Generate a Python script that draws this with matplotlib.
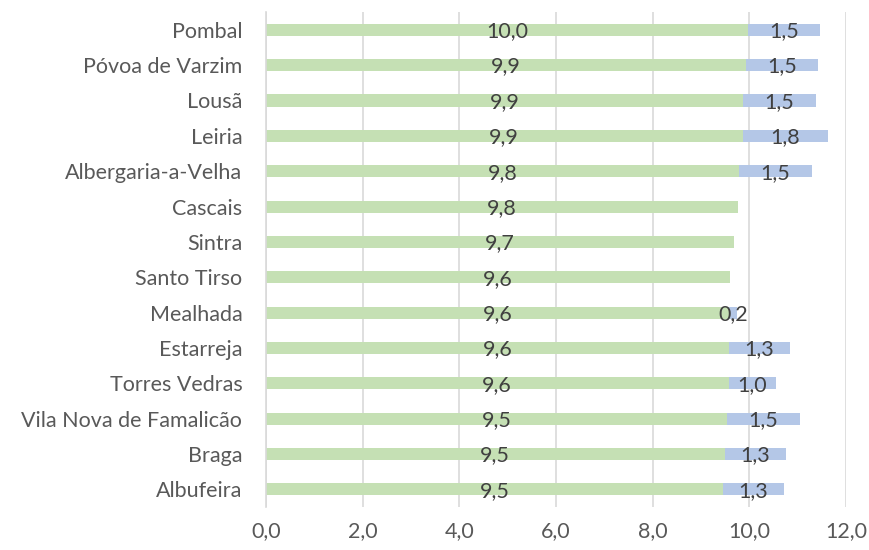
import matplotlib.pyplot as plt
import numpy as np

# --- data (top to bottom as shown) ---
municipios = ['Pombal', 'Póvoa de Varzim', 'Lousã', 'Leiria', 'Albergaria-a-Velha',
              'Cascais', 'Sintra', 'Santo Tirso', 'Mealhada', 'Estarreja',
              'Torres Vedras', 'Vila Nova de Famalicão', 'Braga', 'Albufeira']
base = [9.98, 9.94, 9.87, 9.86, 9.79, 9.76, 9.69, 9.60, 9.58, 9.58, 9.57, 9.54, 9.49, 9.46]
extra = [1.49, 1.48, 1.50, 1.76, 1.50, 0.0, 0.0, 0.0, 0.16, 1.26, 0.99, 1.50, 1.26, 1.26]
x_ticks = [0, 2, 4, 6, 8, 10, 12]

green = '#c5e0b4'
blue = '#b4c7e7'
grid_c = '#d9d9d9'
txt_c = '#404040'

plt.rcParams['font.family'] = ['Lato', 'DejaVu Sans']

fig = plt.figure(figsize=(8.69, 5.5), dpi=100)
ax = fig.add_axes([0.306, 0.078, 0.6675, 0.90])

y = np.arange(len(municipios))
ax.barh(y, base, height=0.34, color=green, zorder=2)
ax.barh(y, extra, left=base, height=0.34, color=blue, zorder=2)

def fmt(v):
    return f'{v:.1f}'.replace('.', ',')

for yi, g, b in zip(y, base, extra):
    ax.text(g / 2, yi + 0.04, fmt(g), ha='center', va='center', fontsize=15.5, color=txt_c, zorder=3)
    if b > 0:
        ax.text(g + b / 2, yi + 0.04, fmt(b), ha='center', va='center', fontsize=15.5, color=txt_c, zorder=3)

ax.set_xlim(0, 12)
ax.set_ylim(len(municipios) - 0.5, -0.5)
ax.set_xticks(x_ticks)
ax.set_xticklabels([fmt(t) for t in x_ticks])
ax.set_yticks(y)
ax.set_yticklabels(municipios)
ax.tick_params(axis='both', length=0, labelsize=15.5, colors='#595959')
ax.tick_params(axis='y', pad=17)
ax.tick_params(axis='x', pad=10)

ax.grid(axis='x', color=grid_c, linewidth=1.2, zorder=0)
for s in ['top', 'right', 'bottom']:
    ax.spines[s].set_visible(False)
ax.spines['left'].set_color(grid_c)
ax.spines['left'].set_linewidth(1.2)

fig.savefig('out.png', dpi=100)
